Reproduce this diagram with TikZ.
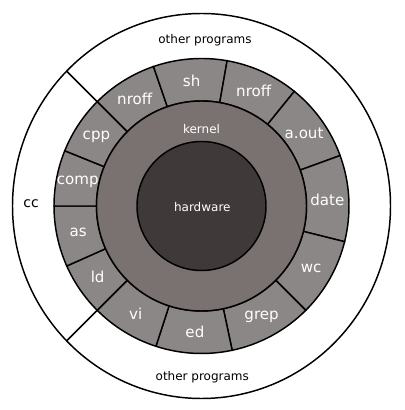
\documentclass[tikz,border=0pt]{standalone}
\usepackage{fontspec}
\setmainfont{DejaVu Sans}
\definecolor{ringgray}{HTML}{8B8786}
\definecolor{kernelgray}{HTML}{7A7270}
\definecolor{hwgray}{HTML}{3F393A}
\tikzset{
  prog/.style={text=white, font=\fontsize{11.3}{13}\selectfont},
  lbl/.style={font=\fontsize{9}{11}\selectfont}
}
\begin{document}
\begin{tikzpicture}[x=0.75pt, y=0.75pt, line width=1.1pt]
				\useasboundingbox (0,0) rectangle (404,410);
				\begin{scope}[shift={(201.5,204)}]
					\draw[black] (0,0) ellipse [x radius=189, y radius=192.5];
					\draw[black] (135:147.5) -- (135:190.5);
					\draw[black] (225:147.5) -- (225:190.5);
					\foreach \a/\b/\name/\id in {109/135/nroff/nroffa, 80/109/sh/sh, 51/80/nroff/nroffb, 20/51/a.out/aout, -14/20/date/date, -45/-14/wc/wc, -78/-45/grep/grep, -108/-78/ed/ed, -135/-108/vi/vi, -156/-135/ld/ld, -180/-156/as/as, 158/180/comp/comp, 135/158/cpp/cpp}
					{
						\filldraw[fill=ringgray, draw=black] (\a:147.5) arc[start angle=\a, end angle=\b, radius=147.5] -- (\b:105) arc[start angle=\b, end angle=\a, radius=105] -- cycle;
						\node[prog] (\id) at ({(\a+\b)/2}:126) {\name};
					}
					\filldraw[fill=kernelgray, draw=black] (0,0) circle (105);
					\filldraw[fill=hwgray, draw=black] (0,0) circle (64.5);
					\node[lbl, text=white] (kernel) at (0,77) {kernel};
					\node[lbl, text=white] (hardware) at (0.8,-1) {hardware};
					\node[lbl, font=\fontsize{10.5}{12}\selectfont] (cc) at (-170.5,2.7) {cc};
					\node[lbl] (othertop) at (3.5,166) {other programs};
					\node[lbl] (otherbot) at (0.8,-170.7) {other programs};
				\end{scope}
				\end{tikzpicture}
\end{document}
